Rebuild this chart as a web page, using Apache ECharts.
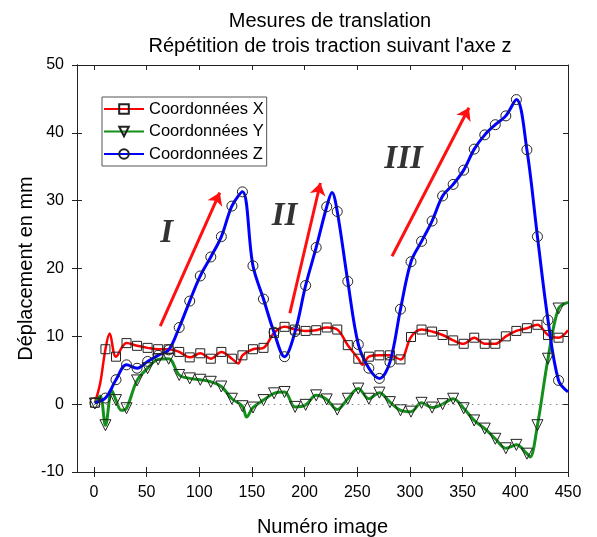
<!DOCTYPE html>
<html>
<head>
<meta charset="utf-8">
<script src="https://cdn.jsdelivr.net/npm/echarts@6/dist/echarts.min.js"></script>
<style>html,body{margin:0;padding:0;background:#fff}#chart{width:597px;height:537px}</style>
</head>
<body>
<div id="chart"></div>
<script>
// Image numbers carrying a marker
const imageNumbers = [1, 11, 21, 31, 41, 51, 61, 71, 81, 91, 101, 111, 121, 131, 141, 151, 161, 171, 181, 191, 201, 211, 221, 231, 241, 251, 261, 271, 281, 291, 301, 311, 321, 331, 341, 351, 361, 371, 381, 391, 401, 411, 421, 431, 441];
const coordX = [0.2, 8.1, 7.0, 9.0, 8.6, 8.3, 8.1, 8.1, 7.7, 6.9, 7.5, 6.7, 7.7, 6.7, 7.2, 8.1, 8.3, 10.5, 11.4, 11.0, 10.8, 10.9, 11.3, 11.0, 8.7, 6.7, 7.0, 7.2, 7.2, 6.6, 9.9, 11.0, 10.7, 10.2, 9.4, 8.9, 9.8, 8.9, 8.9, 10.0, 10.8, 11.2, 11.7, 10.2, 9.8];
const coordY = [0.1, -3.1, 0.6, -0.6, 3.5, 5.3, 6.6, 6.7, 4.3, 3.8, 3.6, 3.3, 2.6, 0.8, -0.3, -0.5, 0.6, 1.6, 1.8, -0.4, -0.1, 1.3, 0.7, -0.8, 0.8, 2.3, 0.8, 1.7, 0.3, -0.9, -1.1, 0.2, -0.5, 0.0, 0.8, -0.6, -2.4, -3.6, -5.1, -6.5, -6.0, -7.3, -3.1, 6.7, 14.1];
const coordZ = [0.2, 0.9, 3.6, 5.8, 5.3, 6.3, 7.2, 8.0, 11.3, 15.2, 18.9, 21.7, 24.7, 29.2, 31.3, 20.4, 15.5, 10.6, 7.0, 10.7, 17.5, 23.1, 29.1, 28.4, 18.1, 8.8, 5.3, 3.8, 6.2, 14.0, 21.0, 24.0, 27.0, 30.7, 32.4, 34.5, 37.6, 39.7, 41.2, 42.5, 44.9, 37.5, 24.7, 12.4, 3.5];
// Extra curve points between markers [image, value]
const extraX = [[6, 3.1], [15, 10.4], [137, 6.0], [255, 5.8], [450, 10.9]];
const extraY = [[6, 1.2], [17, 2.0], [26, -0.9], [145, -1.9], [414, -7.8], [450, 15.0]];
const extraZ = [[226, 31.2], [450, 1.8]];
const seriesNames = ['Coordonnées X', 'Coordonnées Y', 'Coordonnées Z'];
const xTickValues = [0, 50, 100, 150, 200, 250, 300, 350, 400, 450];
// Annotations
const romanLabels = [{name: 'I', value: [69, 25.2]}, {name: 'II', value: [181, 27.7]}, {name: 'III', value: [294, 36.0]}];
const arrows = [[[63, 11.5], [119.5, 31.2]], [[186, 13.4], [215, 32.6]], [[283, 21.8], [356, 43.7]]];

function build(values, extras) {
  const pts = imageNumbers.map((x, i) => ({value: [x, values[i]]}));
  extras.forEach(p => pts.push({value: [p[0], p[1]], symbol: 'none'}));
  pts.sort((a, b) => a.value[0] - b.value[0]);
  return pts;
}

const font = "'Liberation Sans', Arial, sans-serif";
const axisLineStyle = {color: '#222', width: 1};
const markerStyle = {color: 'rgba(255,255,255,0)', borderColor: '#222', borderWidth: 1};

const chart = echarts.init(document.getElementById('chart'));
chart.setOption({
  animation: false,
  title: {
    text: 'Mesures de translation\nRépétition de trois traction suivant l\'axe z',
    left: 325, top: 4, textAlign: 'center',
    textStyle: {fontFamily: font, fontSize: 20, fontWeight: 'normal', color: '#000', lineHeight: 25}
  },
  legend: {
    data: seriesNames,
    orient: 'vertical', left: 102, top: 97,
    itemWidth: 40, itemHeight: 12, itemGap: 5.5,
    padding: [3.5, 3, 3.5, 1],
    borderColor: '#555', borderWidth: 1,
    textStyle: {fontFamily: font, fontSize: 16.5, color: '#000'}
  },
  grid: {left: 77, right: 29, top: 65, bottom: 65, containLabel: false, outerBoundsMode: 'none'},
  xAxis: [
    {type: 'value', position: 'bottom', min: -16, max: 450,
     name: 'Numéro image', nameLocation: 'middle', nameGap: 45, nameMoveOverlap: false,
     nameTextStyle: {fontFamily: font, fontSize: 20, color: '#000'},
     axisLine: {show: true, onZero: false, lineStyle: axisLineStyle},
     axisTick: {show: true, inside: false, length: 5, customValues: xTickValues, lineStyle: axisLineStyle},
     axisLabel: {show: true, customValues: xTickValues, margin: 13, fontFamily: font, fontSize: 16, color: '#000'},
     splitLine: {show: false}},
    {type: 'value', position: 'bottom', min: -16, max: 450,
     axisLine: {show: true, onZero: false, lineStyle: axisLineStyle},
     axisTick: {show: true, inside: true, length: 5, customValues: xTickValues, lineStyle: axisLineStyle},
     axisLabel: {show: false}, splitLine: {show: false}},
    {type: 'value', position: 'top', min: -16, max: 450,
     axisLine: {show: true, onZero: false, lineStyle: axisLineStyle},
     axisTick: {show: true, inside: true, length: 5, customValues: xTickValues, lineStyle: axisLineStyle},
     axisLabel: {show: false}, splitLine: {show: false}}
  ],
  yAxis: [
    {type: 'value', position: 'left', min: -10, max: 50, interval: 10,
     name: 'Déplacement en mm', nameLocation: 'middle', nameGap: 41, nameMoveOverlap: false,
     nameTextStyle: {fontFamily: font, fontSize: 20, color: '#000'},
     axisLine: {show: true, onZero: false, lineStyle: axisLineStyle},
     axisTick: {show: true, inside: false, length: 5, lineStyle: axisLineStyle},
     axisLabel: {show: true, margin: 13, fontFamily: font, fontSize: 16, color: '#000'},
     splitLine: {show: false}},
    {type: 'value', position: 'left', min: -10, max: 50, interval: 10,
     axisLine: {show: true, onZero: false, lineStyle: axisLineStyle},
     axisTick: {show: true, inside: true, length: 5, lineStyle: axisLineStyle},
     axisLabel: {show: false}, splitLine: {show: false}},
    {type: 'value', position: 'right', min: -10, max: 50, interval: 10,
     axisLine: {show: true, onZero: false, lineStyle: axisLineStyle},
     axisTick: {show: true, inside: true, length: 5, lineStyle: axisLineStyle},
     axisLabel: {show: false}, splitLine: {show: false}}
  ],
  series: [
    {name: seriesNames[0], type: 'line', smooth: 0.35, data: build(coordX, extraX),
     symbol: 'rect', symbolSize: 9, showSymbol: true, showAllSymbol: true,
     lineStyle: {color: '#ff0000', width: 2.5}, itemStyle: markerStyle,
     markLine: {silent: true, symbol: 'none', label: {show: false},
       lineStyle: {color: '#888', width: 1, type: [1.5, 4.5]},
       data: [[{coord: [0, 0]}, {coord: [450, 0]}]]}},
    {name: seriesNames[1], type: 'line', smooth: 0.35, data: build(coordY, extraY),
     symbol: 'triangle', symbolRotate: 180, symbolSize: 11, showSymbol: true, showAllSymbol: true,
     lineStyle: {color: '#13901a', width: 3}, itemStyle: markerStyle},
    {name: seriesNames[2], type: 'line', smooth: 0.35, data: build(coordZ, extraZ),
     symbol: 'circle', symbolSize: 10, showSymbol: true, showAllSymbol: true,
     lineStyle: {color: '#0000ff', width: 3}, itemStyle: markerStyle},
    {name: 'annotations', type: 'scatter', data: romanLabels, symbolSize: 1,
     itemStyle: {color: 'rgba(0,0,0,0)'}, silent: true, z: 5,
     label: {show: true, position: 'inside', formatter: '{b}',
       fontFamily: "'Liberation Serif', 'Times New Roman', serif", fontStyle: 'italic', fontWeight: 'bold',
       fontSize: 33, color: '#000'},
     markLine: {silent: true, symbol: ['none', 'arrow'], symbolSize: 12, label: {show: false},
       lineStyle: {color: '#ff1010', width: 3, type: 'solid'},
       data: arrows.map(a => [{coord: a[0]}, {coord: a[1]}])}}
  ]
});
</script>
</body>
</html>
